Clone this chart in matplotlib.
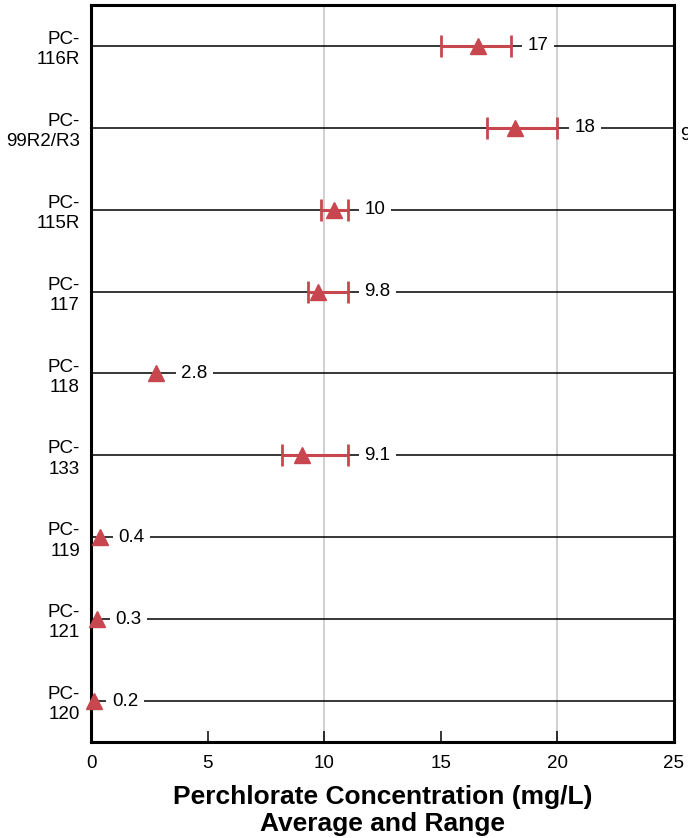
import matplotlib
matplotlib.use("Agg")
import matplotlib.pyplot as plt
import numpy as np

plt.rcParams['font.family'] = ['Liberation Sans', 'DejaVu Sans']

wells = ["PC-\n116R", "PC-\n99R2/R3", "PC-\n115R", "PC-\n117", "PC-\n118",
         "PC-\n133", "PC-\n119", "PC-\n121", "PC-\n120"]
avg = [16.6, 18.2, 10.4, 9.75, 2.8, 9.05, 0.4, 0.27, 0.13]
rmin = [15.0, 17.0, 9.85, 9.3, 2.8, 8.2, 0.4, 0.27, 0.13]
rmax = [18.0, 20.0, 11.0, 11.0, 2.8, 11.0, 0.4, 0.27, 0.13]
labels = ["17", "18", "10", "9.8", "2.8", "9.1", "0.4", "0.3", "0.2"]
xticks = [0, 5, 10, 15, 20, 25]

red = "#c8474f"
fs = 13.5
W, H = 688, 838
fig = plt.figure(figsize=(W/100, H/100), dpi=100)
ax = fig.add_axes([91/W, 1-742/H, (674-91)/W, (742-5)/H])

n = len(wells)
y = np.arange(n)
ax.set_ylim(n-0.5, -0.5)
ax.set_xlim(0, 25)

# horizontal row lines
for yi in y:
    ax.axhline(yi, color="black", lw=1.1, zorder=1)
for gx in [10, 20]:
    ax.axvline(gx, color="#c4c4c4", lw=1.1, zorder=0.5)

a = np.array(avg); lo = np.array(rmin); hi = np.array(rmax)
has = hi - lo > 0
ax.errorbar(a[has], y[has], xerr=[a[has]-lo[has], hi[has]-a[has]], fmt='none',
            ecolor=red, elinewidth=2.2, capsize=8, capthick=2.0, zorder=3)
ax.plot(a, y, linestyle='none', marker='^', markersize=12, color=red,
        markeredgecolor=red, zorder=4, clip_on=False)

for i in range(n):
    xe = max(hi[i], a[i])
    off = 17 if has[i] else 18
    if labels[i] == "2.8":
        off = 25
    ax.annotate(labels[i], (xe, y[i]), xytext=(off, 0), textcoords='offset pixels',
                ha='left', va='center', fontsize=fs, zorder=5,
                bbox=dict(boxstyle='square,pad=0.3', fc='white', ec='none'))

ax.set_yticks(y)
ax.set_yticklabels(wells, fontsize=fs, ha='right', linespacing=1.25)
ax.tick_params(axis='y', length=0, pad=8)
ax.set_xticks(xticks)
ax.set_xticklabels([str(t) for t in xticks], fontsize=fs)
ax.tick_params(axis='x', direction='in', length=8, width=1.1, pad=9)
for s in ax.spines.values():
    s.set_linewidth(2.2)

ax.set_xlabel("Perchlorate Concentration (mg/L)\nAverage and Range",
              fontsize=19, fontweight='bold', labelpad=10, linespacing=1.15)

fig.text(680/W, 1-136/H, "9", fontsize=fs, ha='left', va='center')

fig.savefig("out.png", dpi=100)
